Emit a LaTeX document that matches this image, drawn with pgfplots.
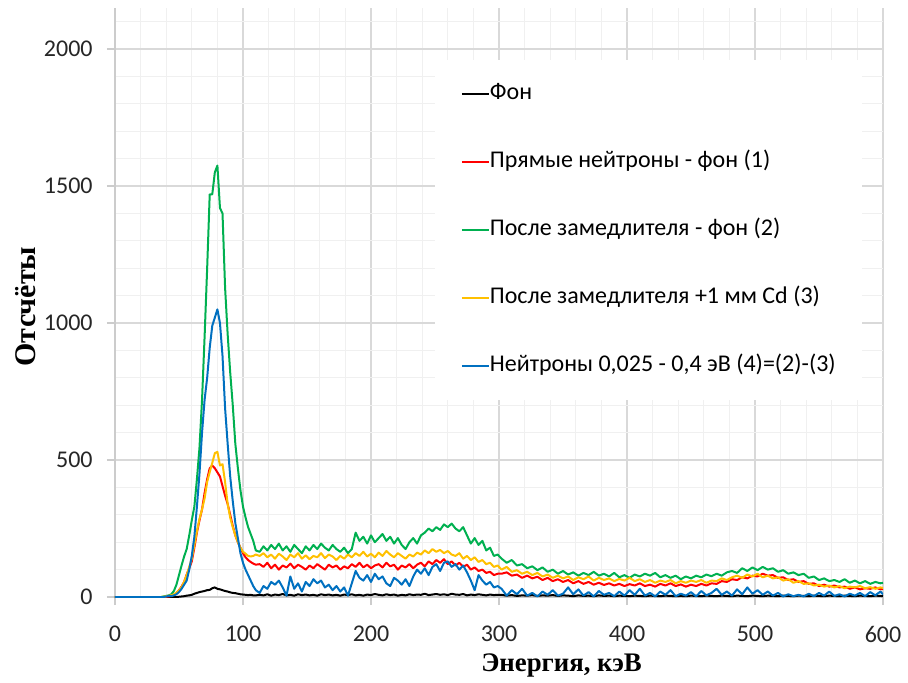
\documentclass[border=0pt]{standalone}
\usepackage{pgfplots}
\pgfplotsset{compat=1.18}
\usepackage{pgfplotstable}
\usepackage{fontspec}
\setmainfont{Carlito}
\newfontfamily\tnr{Liberation Serif}
\definecolor{cK}{HTML}{000000}
\definecolor{cR}{HTML}{FF0000}
\definecolor{cG}{HTML}{00B050}
\definecolor{cY}{HTML}{FFC000}
\definecolor{cB}{HTML}{0070C0}

\pgfplotstableread{
E K R G Y B
0 0 0 0 0 0
36 0 0 0 0 0
38 0 0 2 1 0
40 0 1 4 3 2
42 0 2 6 5 4
44 0 4 10 6 3
46 0 8 22 10 6
48 0 15 45 16 10
50 1 25 80 24 18
52 2 38 115 36 30
54 3 55 148 55 45
56 5 82 175 80 60
58 6 105 225 110 100
60 8 130 280 140 150
62 12 180 330 190 220
64 15 235 430 240 330
66 18 280 545 285 450
68 20 320 720 320 600
70 22 380 950 360 720
72 25 430 1200 420 800
74 26 470 1470 456 910
76 32 480 1470 490 990
78 35 470 1550 525 1020
80 30 455 1575 530 1050
82 28 440 1420 480 1000
84 25 405 1400 485 880
86 22 370 1130 420 690
88 20 340 960 340 560
90 17 300 820 290 440
92 15 260 700 255 350
94 14 225 560 225 270
96 12 200 470 200 215
98 10 180 390 180 160
100 9 160 330 165 125
102 8 145 290 158 100
104 7 135 255 150 80
106 8 128 230 148 60
108 6 122 205 150 40
110 6 118 170 155 25
113 8 120 165 150 15
116 6 110 185 160 40
119 10 125 170 145 30
122 5 105 190 155 55
125 9 118 175 140 45
128 7 100 195 158 60
131 11 115 170 148 35
134 6 108 185 135 5
137 8 122 165 155 75
140 5 105 190 145 30
143 10 118 175 160 50
146 7 110 160 140 20
149 9 100 185 152 55
152 6 115 170 138 40
155 8 105 190 150 65
158 5 120 175 145 50
161 10 110 195 160 60
164 7 100 180 142 35
167 9 118 170 155 45
170 6 108 190 148 25
173 8 115 175 135 40
176 5 100 165 150 20
179 9 112 180 140 35
182 7 105 160 155 5
185 10 120 175 145 50
188 6 110 235 160 95
191 8 125 205 150 70
194 5 108 220 165 60
197 9 118 195 148 80
200 7 105 225 158 55
203 11 115 200 145 85
206 8 120 215 162 65
209 6 108 230 150 75
212 10 125 205 168 50
215 7 112 220 155 40
218 9 118 195 145 70
221 5 100 215 160 60
224 8 115 190 150 45
227 6 108 175 140 65
230 10 120 200 155 40
233 7 105 215 148 75
236 9 118 195 162 100
239 8 125 225 155 85
242 12 112 235 170 105
245 7 130 250 160 80
248 9 120 240 175 110
251 11 135 255 165 120
254 8 125 245 172 95
257 10 138 265 160 125
260 7 120 255 168 130
263 12 130 268 155 110
266 9 115 250 150 120
269 8 125 240 160 100
272 11 110 255 140 115
275 6 118 225 150 90
278 9 100 195 135 60
281 7 108 215 145 25
284 10 95 190 128 80
287 8 100 205 135 60
290 6 88 170 120 45
293 9 92 180 125 55
296 7 80 150 110 35
299 8 85 155 115 40
302 8 85 140 100 30
306 5 90 125 110 5
310 7 78 135 92 25
314 4 82 115 98 10
318 6 70 120 85 30
322 5 78 105 92 5
326 7 68 112 80 15
330 4 74 98 88 2
334 6 62 108 75 20
338 5 70 92 82 8
342 7 58 100 70 25
346 4 65 85 78 5
350 6 55 95 68 12
354 5 62 82 75 35
358 3 50 90 62 10
362 6 58 78 72 28
366 4 48 88 65 5
370 5 55 80 75 18
374 3 45 92 60 2
378 6 52 78 70 22
382 4 44 85 62 8
386 5 50 75 68 15
390 3 42 88 58 3
394 5 48 72 66 20
398 4 40 80 60 5
402 3 47 70 70 25
406 5 42 82 58 8
410 4 50 75 65 30
414 3 40 85 55 5
418 5 45 78 62 15
422 4 38 88 52 2
426 3 48 72 60 20
430 5 42 80 55 8
434 4 50 70 62 25
438 3 40 78 50 3
442 4 46 65 58 12
446 3 38 75 52 5
450 5 45 68 60 18
454 4 40 78 55 2
458 3 48 72 62 22
462 5 42 82 52 6
466 4 50 76 60 15
470 3 48 85 58 30
474 5 58 78 68 8
478 4 55 90 62 20
482 3 65 95 72 5
486 5 62 88 78 28
490 4 72 105 70 10
494 3 68 95 82 35
498 5 78 108 75 12
502 4 75 98 85 25
506 3 85 110 72 8
510 5 78 100 78 20
514 4 80 105 68 5
518 3 70 92 72 15
522 5 72 98 60 2
526 4 62 85 65 10
530 3 65 90 52 3
534 5 55 80 58 8
538 4 58 85 48 2
542 3 48 70 50 12
546 5 50 75 42 3
550 4 40 62 45 15
554 3 45 68 38 5
558 5 38 58 42 20
562 4 42 62 35 4
566 3 35 55 40 10
570 5 38 65 32 2
574 4 30 52 38 12
578 3 35 60 35 5
582 5 28 50 40 15
586 4 32 58 32 3
590 3 30 48 36 18
594 5 35 55 30 6
598 4 28 50 35 20
600 3 30 52 33 10
}\spectrum

\begin{document}
\begin{tikzpicture}
\path[use as bounding box] (-57.5pt,-42.5pt) rectangle (396.5pt,298.5pt);
\begin{axis}[
  at={(0,0)}, anchor=south west,
  scale only axis, width=384pt, height=294.5pt,
  xmin=0, xmax=600, ymin=0, ymax=2150,
  xtick={0,100,...,600}, ytick={0,500,...,2000},
  minor xtick={20,40,...,580}, minor ytick={100,200,...,2100},
  grid=both,
  major grid style={draw=black!15, line width=0.6pt},
  minor grid style={draw=black!6, line width=0.6pt},
  axis x line*=bottom, axis y line*=left,
  axis line style={draw=black!20, line width=0.75pt, -},
  tick style={draw=black!20, line width=0.75pt},
  major tick length=4pt, minor tick length=0pt,
  tick align=outside,
  /pgf/number format/assume math mode=true,
  /pgf/number format/1000 sep={},
  ticklabel style={font=\fontsize{12}{14}\selectfont, text=black!85},
  xticklabel style={anchor=center, yshift=-14.5pt},
  yticklabel style={anchor=east, inner sep=0pt, xshift=-7pt},
  xlabel={\tnr\bfseries\fontsize{13.4}{16}\selectfont Энергия, кэВ},
  ylabel={\tnr\bfseries\fontsize{15}{18}\selectfont Отсчёты},
  x label style={at={(axis description cs:0.5814,-0.117)}, anchor=center},
  y label style={at={(axis description cs:-0.1159,0.493)}, anchor=center},
  legend style={at={(0.416,0.913)}, anchor=north west, draw=none, fill=white,
    inner xsep=13pt, inner ysep=10pt, row sep=20pt,
    font=\fontsize{12}{14}\selectfont,
    nodes={inner xsep=0pt, inner ysep=1pt, text height=9pt, text depth=3pt}},
  legend cell align=left,
  legend image code/.code={\draw[#1, line width=1pt] (0pt,0pt) -- (13.5pt,0pt);},
  every axis plot/.append style={line width=1pt, line join=round},
]
\addplot[cK] table[x=E, y=K] {\spectrum};
\addlegendentry{Фон}
\addplot[cR] table[x=E, y=R] {\spectrum};
\addlegendentry{Прямые нейтроны - фон (1)}
\addplot[cG] table[x=E, y=G] {\spectrum};
\addlegendentry{После замедлителя - фон (2)}
\addplot[cY] table[x=E, y=Y] {\spectrum};
\addlegendentry{После замедлителя +1 мм Cd (3)}
\addplot[cB] table[x=E, y=B] {\spectrum};
\addlegendentry{Нейтроны 0,025 - 0,4 эВ (4)=(2)-(3)}
\end{axis}
\end{tikzpicture}
\end{document}
